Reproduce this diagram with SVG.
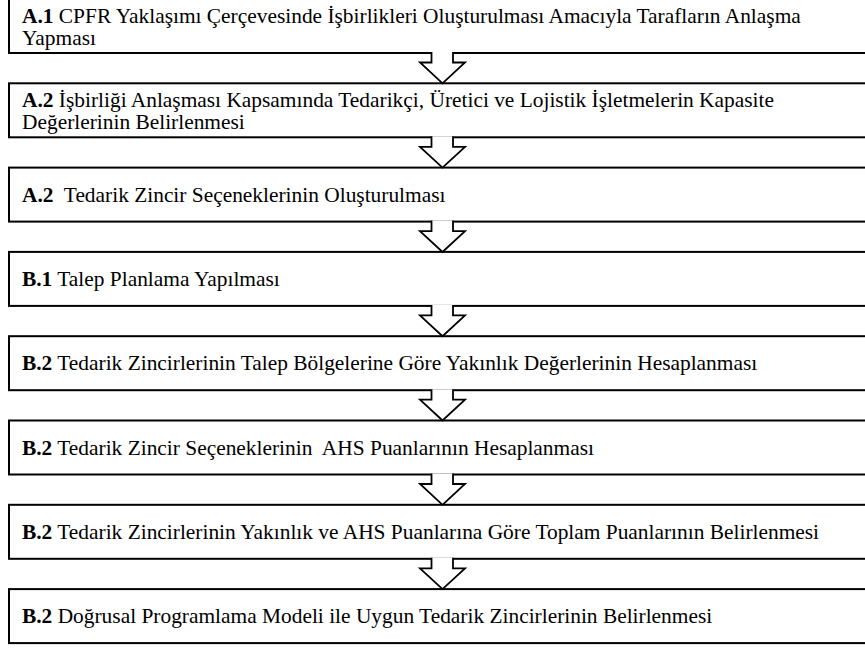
<svg xmlns="http://www.w3.org/2000/svg" width="865" height="648" viewBox="0 0 865 648">
<style>
.box{fill:#fff;stroke:#000;stroke-width:2}
.t{font-family:"Liberation Serif","Times New Roman",serif;font-size:21.4px;fill:#000;white-space:pre}
.b{font-weight:bold}
.arr{fill:#fff;stroke:#000;stroke-width:1.8;stroke-linejoin:miter}
</style>
<rect width="865" height="648" fill="#fff"/>
<g id="n1"><rect class="box" x="9" y="-1" width="870" height="54"/>
<text class="t" x="22" y="23"><tspan class="b">A.1</tspan> CPFR Yaklaşımı Çerçevesinde İşbirlikleri Oluşturulması Amacıyla Tarafların Anlaşma</text>
<text class="t" x="22" y="45">Yapması</text></g>
<g id="n2"><rect class="box" x="9" y="83.3" width="870" height="54"/>
<text class="t" x="22" y="107"><tspan class="b">A.2</tspan> İşbirliği Anlaşması Kapsamında Tedarikçi, Üretici ve Lojistik İşletmelerin Kapasite</text>
<text class="t" x="22" y="129">Değerlerinin Belirlenmesi</text></g>
<g id="n3"><rect class="box" x="9" y="167.6" width="870" height="54"/>
<text class="t" x="22" y="201.6"><tspan class="b">A.2</tspan>  Tedarik Zincir Seçeneklerinin Oluşturulması</text></g>
<g id="n4"><rect class="box" x="9" y="251.9" width="870" height="54"/>
<text class="t" x="22" y="285.9"><tspan class="b">B.1</tspan> Talep Planlama Yapılması</text></g>
<g id="n5"><rect class="box" x="9" y="336.2" width="870" height="54"/>
<text class="t" x="22" y="370.2"><tspan class="b">B.2</tspan> Tedarik Zincirlerinin Talep Bölgelerine Göre Yakınlık Değerlerinin Hesaplanması</text></g>
<g id="n6"><rect class="box" x="9" y="420.5" width="870" height="54"/>
<text class="t" x="22" y="454.5"><tspan class="b">B.2</tspan> Tedarik Zincir Seçeneklerinin  AHS Puanlarının Hesaplanması</text></g>
<g id="n7"><rect class="box" x="9" y="504.8" width="870" height="54"/>
<text class="t" x="22" y="538.8"><tspan class="b">B.2</tspan> Tedarik Zincirlerinin Yakınlık ve AHS Puanlarına Göre Toplam Puanlarının Belirlenmesi</text></g>
<g id="n8"><rect class="box" x="9" y="589.1" width="870" height="54"/>
<text class="t" x="22" y="623.1"><tspan class="b">B.2</tspan> Doğrusal Programlama Modeli ile Uygun Tedarik Zincirlerinin Belirlenmesi</text></g>
<g id="connectors">
<path class="arr" d="M431.5,52 V62.5 H420 L442.5,83.3 L465,62.5 H453 V52"/>
<path class="arr" d="M431.5,136.3 V146.8 H420 L442.5,167.6 L465,146.8 H453 V136.3"/>
<path class="arr" d="M431.5,220.6 V231.1 H420 L442.5,251.9 L465,231.1 H453 V220.6"/>
<path class="arr" d="M431.5,304.9 V315.4 H420 L442.5,336.2 L465,315.4 H453 V304.9"/>
<path class="arr" d="M431.5,389.2 V399.7 H420 L442.5,420.5 L465,399.7 H453 V389.2"/>
<path class="arr" d="M431.5,473.5 V484 H420 L442.5,504.8 L465,484 H453 V473.5"/>
<path class="arr" d="M431.5,557.8 V568.3 H420 L442.5,589.1 L465,568.3 H453 V557.8"/>
</g>
</svg>
